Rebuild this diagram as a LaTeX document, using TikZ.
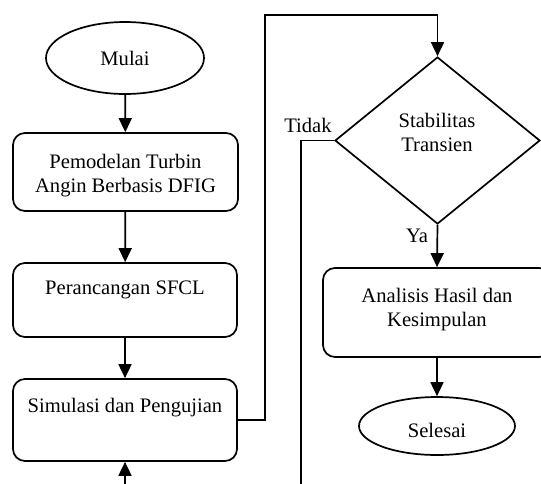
\documentclass[tikz,border=0pt]{standalone}
\usepackage{fontspec}
\setmainfont{Liberation Serif}
\usetikzlibrary{shapes.geometric,arrows.meta}
\begin{document}
\begin{tikzpicture}[x=1pt,y=-1pt,
  line width=1.7pt,
  every node/.style={font=\fontsize{20.6}{24}\selectfont},
  txt/.style={align=center,inner sep=0pt},
  procbox/.style={draw,rectangle,rounded corners=12pt,inner sep=0pt},
  term/.style={draw,ellipse,inner sep=0pt},
  decision/.style={draw,diamond,inner sep=0pt},
  arr/.style={-{Triangle[length=14pt,width=13pt]}}]
\useasboundingbox (0,0) rectangle (541,483);
\begin{scope}
\clip (0,0) rectangle (541,483);
% shapes
\node[term,minimum width=158pt,minimum height=72pt] (start) at (125,58) {};
\node[txt] (startt) at (125,58) {Mulai};
\node[procbox,minimum width=225pt,minimum height=78pt] (b1) at (125.5,172) {};
\node[txt] (b1t) at (125.5,176) {Pemodelan Turbin\\Angin Berbasis DFIG};
\node[procbox,minimum width=224pt,minimum height=74pt] (b2) at (125,300) {};
\node[txt] (b2t) at (125,290) {Perancangan SFCL};
\node[procbox,minimum width=224pt,minimum height=82pt] (b3) at (125,420) {};
\node[txt] (b3t) at (125,408) {Simulasi dan Pengujian};
\node[decision,minimum width=205pt,minimum height=167pt] (dec) at (437.5,140.5) {};
\node[txt] (dect) at (437,132.5) {Stabilitas\\Transien};
\node[procbox,minimum width=228pt,minimum height=89pt] (b4) at (437,312.5) {};
\node[txt] (b4t) at (437,310) {Analisis Hasil dan\\Kesimpulan};
\node[term,minimum width=156pt,minimum height=58pt] (stop) at (437,426) {};
\node[txt] (stopt) at (437,430) {Selesai};
\node[txt] (tidak) at (308,125) {Tidak};
\node[txt] (ya) at (417,235.5) {Ya};
% free ends
\coordinate (loopc) at (265,15);
\coordinate (noend) at (301,484);
\coordinate (inend) at (125,484);
% connectors
\draw[arr] (start) -- (b1);
\draw[arr] (b1) -- (b2);
\draw[arr] (b2) -- (b3);
\draw[arr] (b3.east) -| (loopc) -| (dec.north);
\draw (dec.west) -| (noend);
\draw[arr] (inend) -- (b3.south);
\draw[arr] (dec.south) -- (b4.north);
\draw[arr] (b4) -- (stop);
\end{scope}
\end{tikzpicture}
\end{document}
